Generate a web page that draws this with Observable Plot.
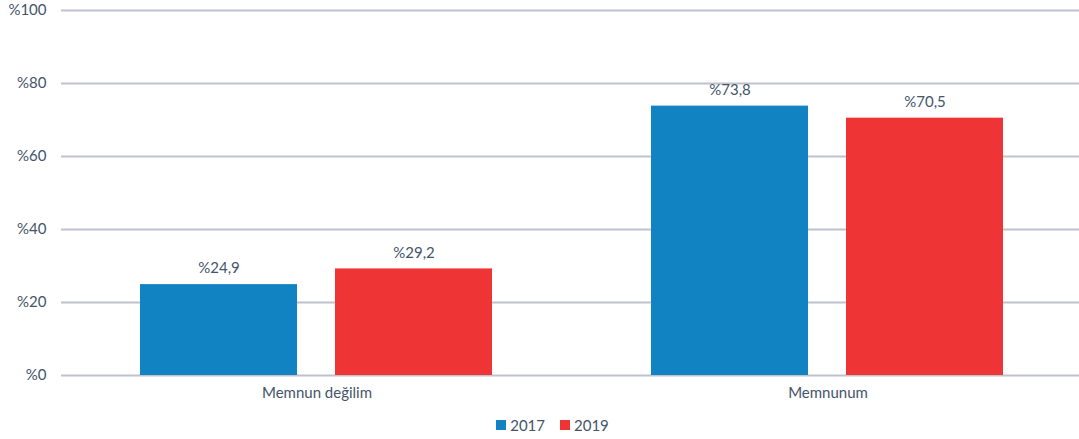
<!DOCTYPE html>
<html>
<head>
<meta charset="utf-8">
<script src="https://cdn.jsdelivr.net/npm/d3@7"></script>
<script src="https://cdn.jsdelivr.net/npm/@observablehq/plot@0.6"></script>
<style>
  body { margin: 0; background: #fff; font-family: Lato, "Open Sans", sans-serif; }
  #legend { display: flex; justify-content: center; gap: 15px; font-size: 15px; color: #44546A; margin-top: 14px; padding-left: 26px; }
  #legend span.item { display: flex; align-items: center; gap: 4px; }
  #legend span.sw { width: 10px; height: 10px; display: inline-block; }
</style>
</head>
<body>
<div id="chart"></div>
<div id="legend"></div>
<script>
const categories = ["Memnun değilim", "Memnunum"];
const years = ["2017", "2019"];
const values2017 = [24.9, 73.8];
const values2019 = [29.2, 70.5];
const yTicks = [0, 20, 40, 60, 80, 100];
const colors = ["#1283C2", "#EE3435"];

const data = [];
categories.forEach((c, i) => {
  data.push({category: c, year: years[0], value: values2017[i]});
  data.push({category: c, year: years[1], value: values2019[i]});
});
const fmt = v => "%" + v.toFixed(1).replace(".", ",");
const textColor = "#44546A";

const chart = Plot.plot({
  width: 1079,
  height: 402,
  marginLeft: 60,
  marginRight: -4,
  marginTop: 10,
  marginBottom: 27,
  style: {fontFamily: "Lato, 'Open Sans', sans-serif", fontSize: "15px", color: textColor},
  fx: {domain: categories, padding: 0, label: null},
  x: {domain: years, paddingInner: 0.194, paddingOuter: 0.403, axis: null},
  y: {domain: [0, 100], label: null},
  color: {domain: years, range: colors},
  marks: [
    Plot.ruleY(yTicks, {stroke: "#BEC2CB", strokeWidth: 2}),
    Plot.axisY(yTicks, {tickSize: 0, tickPadding: 15, tickFormat: d => "%" + d, label: null, fill: textColor}),
    Plot.axisFx({anchor: "bottom", tickSize: 0, tickPadding: 12, label: null, fill: textColor}),
    Plot.barY(data, {fx: "category", x: "year", y: "value", fill: "year"}),
    Plot.text(data, {fx: "category", x: "year", y: "value", text: d => fmt(d.value), dy: -16, fill: textColor, fontSize: 15})
  ]
});
document.getElementById("chart").appendChild(chart);

const legend = document.getElementById("legend");
years.forEach((y, i) => {
  const item = document.createElement("span");
  item.className = "item";
  item.innerHTML = `<span class="sw" style="background:${colors[i]}"></span>${y}`;
  legend.appendChild(item);
});
</script>
</body>
</html>
